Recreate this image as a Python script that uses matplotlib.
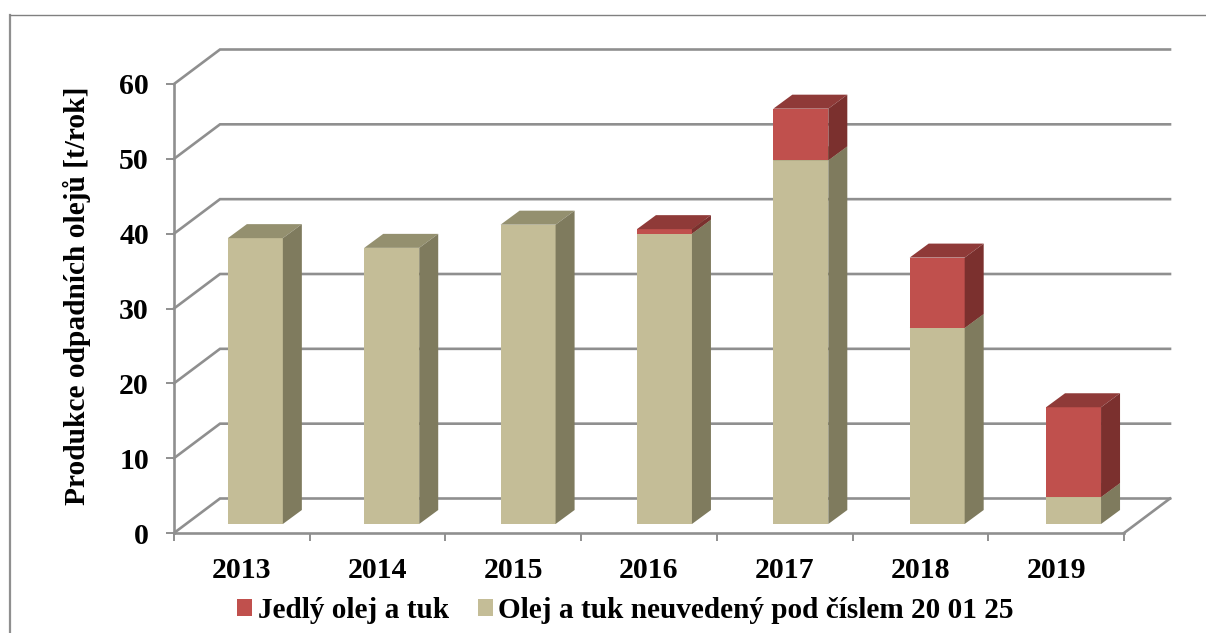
import matplotlib
matplotlib.use('Agg')
import matplotlib.pyplot as plt
from matplotlib.lines import Line2D
from matplotlib.patches import Patch, Polygon

years = ['2013', '2014', '2015', '2016', '2017', '2018', '2019']
olej = [38.2, 36.9, 40.0, 38.8, 48.6, 26.2, 3.6]
jedly = [0, 0, 0, 0.6, 6.9, 9.4, 12.0]
yticks = [0, 10, 20, 30, 40, 50, 60]

W, H = 1206, 633
GRAY = '#8f8f8f'
TAN = ('#c4bd97', '#94906f', '#7f7b5e')
RED = ('#c0504d', '#8f3a38', '#7b302e')

plt.rcParams['font.family'] = ['Liberation Serif', 'DejaVu Serif']
plt.rcParams['font.weight'] = 'bold'

fig = plt.figure(figsize=(W / 100, H / 100), dpi=100)
ax = fig.add_axes([174 / W, 1 - 533 / H, (1124 - 174) / W, (533 - 84) / H])
ax.set_xlim(-0.5, 6.5)
ax.set_ylim(0, 60)
ax.patch.set_visible(False)

# pixel sizes in data units, for the fake 3d depth
px = 7 / (1124 - 174)
py = 60 / (533 - 84)


def box(x, b, t, colors):
    # front, top and side face of one bar segment
    w = 55 * px / 2
    sx, sy = (13.5 + 0.65 * x) * px, 9 * py
    dx, dy = 19 * px, 14 * py
    l, r = x - w + sx, x + w + sx
    b, t = b + sy, t + sy
    faces = [
        ([(l, b), (r, b), (r, t), (l, t)], colors[0]),
        ([(l, t), (r, t), (r + dx, t + dy), (l + dx, t + dy)], colors[1]),
        ([(r, b), (r + dx, b + dy), (r + dx, t + dy), (r, t)], colors[2]),
    ]
    for pts, c in faces:
        ax.add_patch(Polygon(pts, closed=True, facecolor=c, edgecolor='none', clip_on=False, zorder=3))


# back wall lines and the floor edge
wall_x, wall_y = 46 * px, 34.5 * py
for v in yticks:
    ax.plot([-0.5, -0.5 + wall_x, 6.5 + wall_x], [v, v + wall_y, v + wall_y], color=GRAY, lw=1.9,
            clip_on=False, zorder=1, solid_joinstyle='miter')
ax.plot([6.5, 6.5 + wall_x], [0, wall_y], color=GRAY, lw=1.9, clip_on=False, zorder=1)

for i in range(len(years)):
    box(i, 0, olej[i], TAN)
    if jedly[i] > 0:
        box(i, olej[i], olej[i] + jedly[i], RED)

for s in ['top', 'right']:
    ax.spines[s].set_visible(False)
for s in ['left', 'bottom']:
    ax.spines[s].set_color(GRAY)
    ax.spines[s].set_linewidth(1.9)
    ax.spines[s].set_zorder(2)

ax.set_xticks([i - 0.5 for i in range(len(years) + 1)], labels=[])
ax.set_xticks(range(len(years)), labels=years, minor=True)
ax.tick_params(axis='x', which='major', length=6, width=1.4, color=GRAY)
ax.tick_params(axis='x', which='minor', length=0, labelsize=21.5, pad=17)
ax.set_yticks(yticks)
ax.tick_params(axis='y', length=6, width=1.4, color=GRAY, labelsize=21.5, pad=12)
ax.set_ylabel('Produkce odpadních olejů [t/rok]', fontsize=21.2, fontweight='bold', labelpad=13)
ax.yaxis.set_label_coords(91 / 950 - 174 / 950, (533 - 296) / 449)

handles = [Patch(facecolor=RED[0], label='Jedlý olej a tuk'),
           Patch(facecolor=TAN[0], label='Olej a tuk neuvedený pod číslem 20 01 25')]
fig.legend(handles=handles, loc='center', bbox_to_anchor=(625.5 / W, 1 - 610.5 / H), ncol=2, frameon=False,
           fontsize=21.1, handlelength=0.5, handleheight=0.5, handletextpad=0.2, columnspacing=1.0,
           borderpad=0, borderaxespad=0)

# outer chart frame
fig.add_artist(Line2D([10 / W, 10 / W], [0, 1 - 15 / H], color=GRAY, lw=1.6))
fig.add_artist(Line2D([10 / W, 1], [1 - 14.5 / H, 1 - 14.5 / H], color='#808080', lw=1.0))

fig.savefig('out.png', dpi=100, facecolor='white')
